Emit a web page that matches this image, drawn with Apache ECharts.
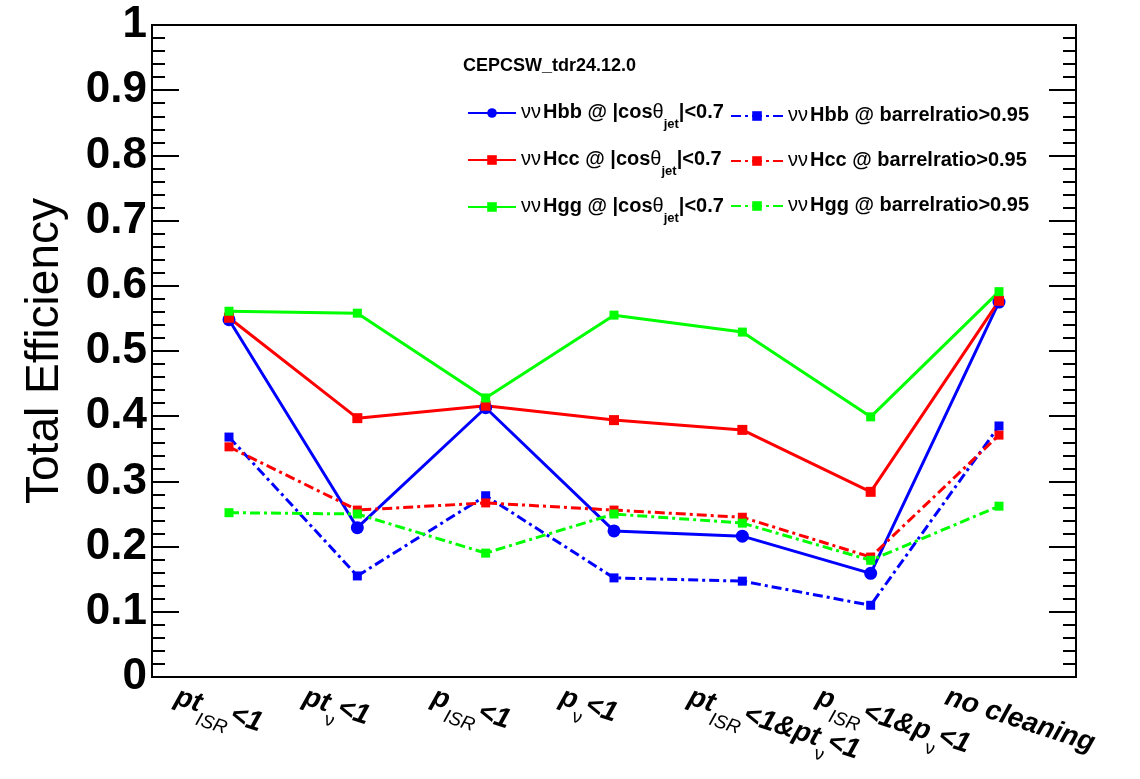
<!DOCTYPE html>
<html>
<head>
<meta charset="utf-8">
<script src="https://cdn.jsdelivr.net/npm/echarts@6.0.0/dist/echarts.min.js"></script>
<style>
  body { margin: 0; background: #fff; }
  #container { width: 1140px; height: 779px; }
</style>
</head>
<body>
<div id="container"></div>
<script>
// cut steps on the x axis (rich text for the subscripts)
const categories = [
  "{m|pt}{s|ISR}{m|<1}",
  "{m|pt}{g|ν}{m|<1}",
  "{m|p}{s|ISR}{m|<1}",
  "{m|p}{g|ν}{m|<1}",
  "{m|pt}{s|ISR}{m|<1&pt}{g|ν}{m|<1}",
  "{m|p}{s|ISR}{m|<1&p}{g|ν}{m|<1}",
  "{m|no cleaning}",
];

const hbbCos = [0.548, 0.229, 0.413, 0.224, 0.216, 0.159, 0.575];
const hccCos = [0.551, 0.397, 0.416, 0.394, 0.379, 0.284, 0.577];
const hggCos = [0.561, 0.558, 0.428, 0.555, 0.529, 0.399, 0.591];
const hbbBarrel = [0.368, 0.155, 0.278, 0.152, 0.147, 0.110, 0.385];
const hccBarrel = [0.353, 0.256, 0.267, 0.256, 0.245, 0.184, 0.371];
const hggBarrel = [0.252, 0.250, 0.190, 0.250, 0.236, 0.179, 0.262];

const seriesNames = ["Hbb cos", "Hcc cos", "Hgg cos", "Hbb barrel", "Hcc barrel", "Hgg barrel"];
const legendLabels = [
  "{n|νν}{b|Hbb @ |cos}{t|θ}{j|jet}{b||<0.7}",
  "{n|νν}{b|Hcc @ |cos}{t|θ}{j|jet}{b||<0.7}",
  "{n|νν}{b|Hgg @ |cos}{t|θ}{j|jet}{b||<0.7}",
  "{n|νν}{b|Hbb @ barrelratio>0.95}",
  "{n|νν}{b|Hcc @ barrelratio>0.95}",
  "{n|νν}{b|Hgg @ barrelratio>0.95}",
];

const labelShift = 0.38; // ROOT puts the rotated label start left of the bin centre
const FONT = "Liberation Sans";
const dashDot = [10, 4, 3, 4];

let dom = document.getElementById("container");
let myChart = echarts.init(dom, null, { renderer: "canvas" });

function makeSeries(name, values, color, symbol, size, dashed) {
  return {
    name: name,
    type: "line",
    data: values.map((v, i) => [i, v]),
    symbol: symbol,
    symbolSize: size,
    itemStyle: { color: color },
    lineStyle: { color: color, width: 3, type: dashed ? dashDot : "solid" },
    xAxisIndex: 0,
    yAxisIndex: 0,
  };
}

const legendRich = {
  n: { fontFamily: FONT, fontSize: 20, fontWeight: "normal", lineHeight: 22, verticalAlign: "top", padding: [0, 2, 0, 0] },
  b: { fontFamily: FONT, fontSize: 20, fontWeight: "bold", lineHeight: 22, verticalAlign: "top" },
  t: { fontFamily: FONT, fontSize: 20, fontWeight: "normal", lineHeight: 22, verticalAlign: "top" },
  j: { fontFamily: FONT, fontSize: 13, fontWeight: "bold", lineHeight: 13, padding: [16, 0, 0, 0], verticalAlign: "top" },
};

let option = {
  animation: false,
  backgroundColor: "#fff",
  title: {
    text: "CEPCSW_tdr24.12.0",
    left: 463,
    top: 57,
    padding: 0,
    textStyle: { fontFamily: FONT, fontSize: 18, fontWeight: "bold", color: "#000" },
  },
  legend: [
    {
      data: seriesNames.slice(0, 3),
      orient: "vertical",
      left: 467,
      top: 102,
      padding: 0,
      itemWidth: 48,
      itemHeight: 12,
      itemGap: 18,
      itemTextGap: 8,
      selectedMode: false,
      formatter: (name) => legendLabels[seriesNames.indexOf(name)],
      textStyle: { color: "#000", rich: legendRich },
    },
    {
      data: seriesNames.slice(3),
      orient: "vertical",
      left: 730,
      top: 105,
      padding: 0,
      itemWidth: 52,
      itemHeight: 12,
      itemGap: 25,
      itemTextGap: 8,
      selectedMode: false,
      formatter: (name) => legendLabels[seriesNames.indexOf(name)],
      textStyle: { color: "#000", rich: legendRich },
    },
  ],
  grid: {
    left: 152,
    right: 64,
    top: 25,
    bottom: 102,
    show: true,
    borderColor: "#000",
    borderWidth: 2,
  },
  xAxis: {
    type: "value",
    min: -0.6,
    max: 6.6,
    splitLine: { show: false },
    axisLine: { show: true, onZero: false, lineStyle: { color: "#000", width: 2 } },
    axisTick: { show: false },
    axisLabel: {
      customValues: categories.map((c, i) => i - labelShift),
      formatter: (value) => categories[Math.round(value + labelShift)],
      rotate: -18,
      align: "left",
      verticalAlign: "top",
      margin: 6,
      color: "#000",
      rich: {
        m: { fontFamily: FONT, fontSize: 28, fontWeight: "bold", fontStyle: "italic", lineHeight: 30, verticalAlign: "top" },
        s: { fontFamily: FONT, fontSize: 19, fontStyle: "italic", lineHeight: 19, padding: [20, 0, 0, 0], verticalAlign: "top" },
        g: { fontFamily: FONT, fontSize: 19, lineHeight: 19, padding: [20, 0, 0, 0], verticalAlign: "top" },
      },
    },
  },
  yAxis: [
    {
      type: "value",
      min: 0,
      max: 1,
      interval: 0.1,
      name: "Total Efficiency",
      nameLocation: "middle",
      nameGap: 84,
      nameTextStyle: { fontFamily: FONT, fontSize: 46, color: "#000" },
      splitLine: { show: false },
      axisLine: { show: true, onZero: false, lineStyle: { color: "#000", width: 2 } },
      axisTick: { show: true, inside: true, length: 27, lineStyle: { color: "#000", width: 2 } },
      minorTick: { show: true, splitNumber: 5, length: 13, lineStyle: { color: "#000", width: 2 } },
      axisLabel: {
        fontFamily: FONT,
        fontSize: 44,
        fontWeight: "bold",
        color: "#000",
        margin: 5,
      },
    },
    {
      type: "value",
      position: "right",
      min: 0,
      max: 1,
      interval: 0.1,
      splitLine: { show: false },
      axisLine: { show: true, onZero: false, lineStyle: { color: "#000", width: 2 } },
      axisTick: { show: true, inside: true, length: 27, lineStyle: { color: "#000", width: 2 } },
      minorTick: { show: true, splitNumber: 5, length: 13, lineStyle: { color: "#000", width: 2 } },
      axisLabel: { show: false },
    },
  ],
  series: [
    makeSeries(seriesNames[0], hbbCos, "#0000ff", "circle", 13, false),
    makeSeries(seriesNames[1], hccCos, "#ff0000", "rect", 10, false),
    makeSeries(seriesNames[2], hggCos, "#00ff00", "rect", 9, false),
    makeSeries(seriesNames[3], hbbBarrel, "#0000ff", "rect", 9, true),
    makeSeries(seriesNames[4], hccBarrel, "#ff0000", "rect", 9, true),
    makeSeries(seriesNames[5], hggBarrel, "#00ff00", "rect", 9, true),
  ],
};

if (option && typeof option === "object") {
  myChart.setOption(option);
}

window.addEventListener("resize", myChart.resize);
</script>
</body>
</html>
